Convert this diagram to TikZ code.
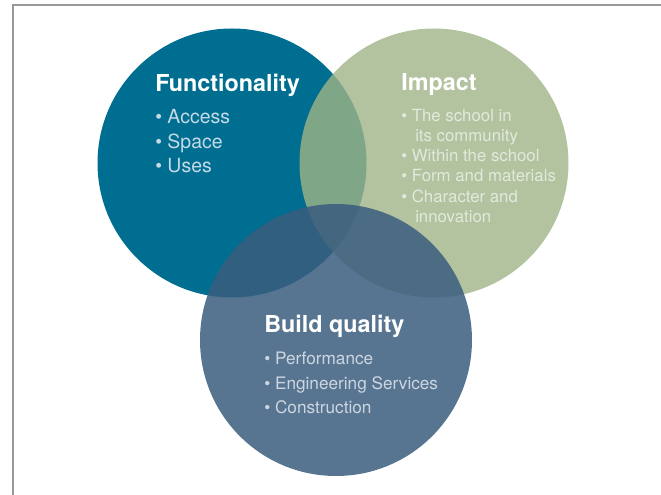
\documentclass[tikz,border=0pt]{standalone}
\usepackage{fontspec}
\setmainfont{TeX Gyre Heros}
\usepackage{tikz}
\usetikzlibrary{positioning}
\definecolor{funcblue}{RGB}{0,110,144}
\definecolor{impgreen}{RGB}{160,180,135}
\definecolor{buildslate}{RGB}{58,93,126}
\definecolor{funcitem}{RGB}{196,218,230}
\definecolor{impitem}{RGB}{226,233,220}
\definecolor{builditem}{RGB}{205,214,224}
\tikzstyle{venn} = [circle, minimum size=201.75pt, inner sep=0pt]
\tikzstyle{head} = [anchor=base west, inner sep=0pt, text=white, font=\fontsize{17.5}{20}\selectfont\bfseries]
\tikzstyle{itemf} = [anchor=base west, inner sep=0pt, text=funcitem, font=\fontsize{14.6}{17}\selectfont]
\tikzstyle{itemi} = [anchor=base west, inner sep=0pt, text=impitem, font=\fontsize{12.6}{15}\selectfont]
\tikzstyle{itemb} = [anchor=base west, inner sep=0pt, text=builditem, font=\fontsize{12.9}{15}\selectfont]
\begin{document}
\begin{tikzpicture}[x=0.75pt, y=-0.75pt]
	\useasboundingbox (0,0) rectangle (661,495);
	% frame
	\draw[gray!80, line width=1.2pt] (13,495) -- (13,5) -- (661,5);
	
	% circles
	\node[venn, fill=funcblue] (func) at (232,163) {};
	\node[venn, fill=impgreen, fill opacity=0.8] (imp) at (434,163) {};
	\node[venn, fill=buildslate, fill opacity=0.85, minimum size=204pt] (build) at (336,340) {};
	
	% Functionality
	\node[head] (funchead) at (155,92) {Functionality};
	\node[itemf] (func1) at (155,124) {\textbullet{} Access};
	\node[itemf] (func2) at (155,149) {\textbullet{} Space};
	\node[itemf] (func3) at (155,173) {\textbullet{} Uses};
	
	% Impact
	\node[head] (imphead) at (401,91) {Impact};
	\node[itemi] (imp1) at (401,122) {\textbullet{} The school in};
	\node[itemi] (imp1b) at (415,142) {its community};
	\node[itemi] (imp2) at (401,162) {\textbullet{} Within the school};
	\node[itemi] (imp3) at (401,182) {\textbullet{} Form and materials};
	\node[itemi] (imp4) at (401,203) {\textbullet{} Character and};
	\node[itemi] (imp4b) at (415,223) {innovation};
	
	% Build quality
	\node[head] (buildhead) at (264,333) {Build quality};
	\node[itemb] (build1) at (264,365) {\textbullet{} Performance};
	\node[itemb] (build2) at (264,390) {\textbullet{} Engineering Services};
	\node[itemb] (build3) at (264,414) {\textbullet{} Construction};
\end{tikzpicture}
\end{document}
